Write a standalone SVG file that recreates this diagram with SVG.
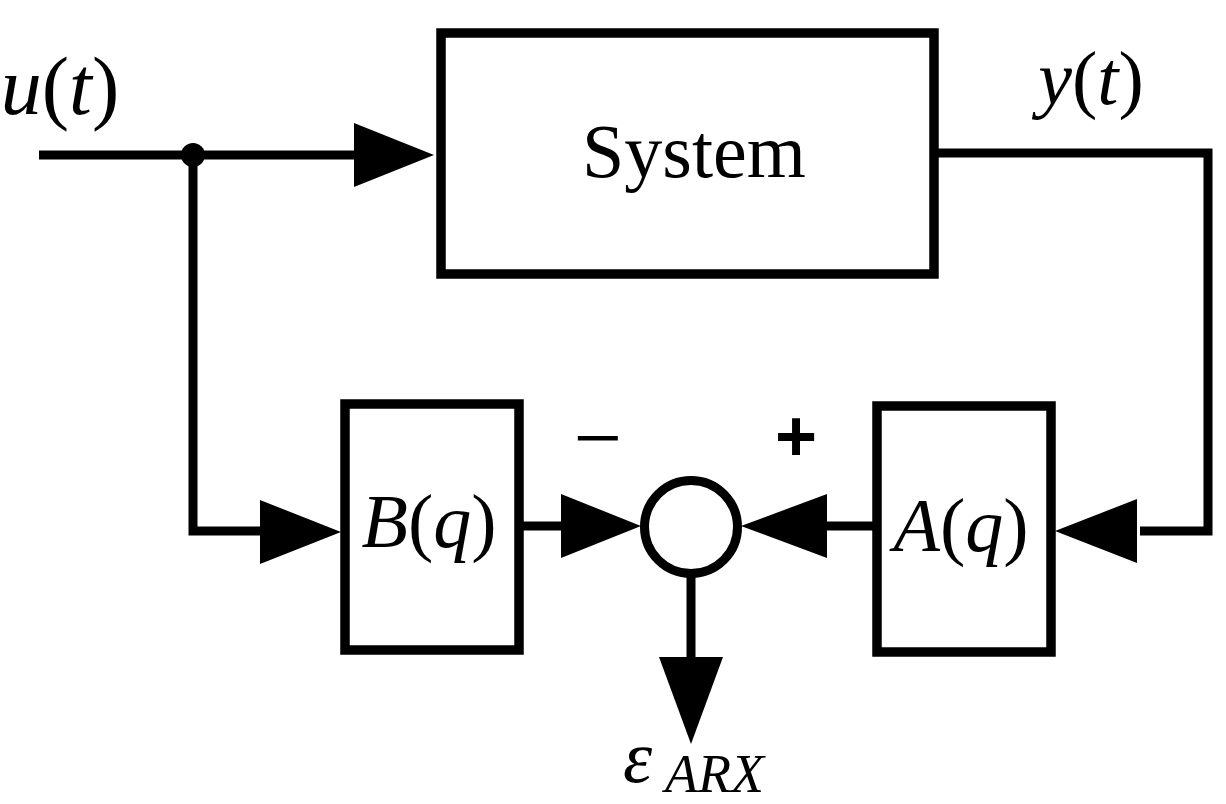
<svg xmlns="http://www.w3.org/2000/svg" width="1226" height="804" viewBox="0 0 1226 804">
<style>
.box{fill:#fff;stroke:#000;stroke-width:9.5}
.wire{fill:none;stroke:#000;stroke-width:9;stroke-linejoin:miter;stroke-linecap:butt}
.head{fill:#000;stroke:none}
.it{font-style:italic}
</style>
<rect width="1226" height="804" fill="#fff"/>
<g id="connectors">
<line class="wire" x1="39" y1="155" x2="360" y2="155"/>
<polygon class="head" points="354,123 434,155 354,187"/>
<circle cx="193" cy="155" r="12" fill="#000"/>
<polyline class="wire" points="193,155 193,531 266,531"/>
<polygon class="head" points="260,500 341,532 260,564"/>
<polyline class="wire" points="937,153 1208,153 1208,531 1140,531"/>
<polygon class="head" points="1137,499 1055,531 1137,563"/>
<line class="wire" x1="522" y1="526" x2="566" y2="526"/>
<polygon class="head" points="561,494 641,526 561,558"/>
<line class="wire" x1="874" y1="526" x2="822" y2="526"/>
<polygon class="head" points="827,494 741,526 827,558"/>
<line class="wire" x1="691" y1="570" x2="691" y2="662"/>
<polygon class="head" points="659,657 691,744 723,657"/>
</g>
<g id="system">
<rect class="box" x="441" y="33" width="493" height="241"/>
<text x="694" y="177" font-size="76" text-anchor="middle" font-family="'Liberation Serif', 'Times New Roman', serif" fill="#000">System</text>
</g>
<g id="Bq">
<rect class="box" x="345" y="404" width="174" height="246"/>
<text x="429" y="547" font-size="76" text-anchor="middle" font-family="'Liberation Serif', 'Times New Roman', serif" fill="#000"><tspan class="it">B</tspan>(<tspan class="it">q</tspan>)</text>
</g>
<g id="Aq">
<rect class="box" x="877" y="406" width="174" height="246"/>
<text x="961" y="551" font-size="76" text-anchor="middle" font-family="'Liberation Serif', 'Times New Roman', serif" fill="#000"><tspan class="it">A</tspan>(<tspan class="it">q</tspan>)</text>
</g>
<g id="sum">
<circle cx="691" cy="527" r="46.5" fill="#fff" stroke="#000" stroke-width="9"/>
<text x="598" y="467" font-size="86" text-anchor="middle" font-family="'Liberation Serif', 'Times New Roman', serif" fill="#000">−</text>
<text x="796" y="461" font-size="72" font-weight="bold" text-anchor="middle" font-family="'Liberation Sans', Arial, sans-serif" fill="#000">+</text>
</g>
<g id="labels">
<text x="60" y="114" font-size="82" text-anchor="middle" font-family="'Liberation Serif', 'Times New Roman', serif" fill="#000"><tspan class="it">u</tspan>(<tspan class="it">t</tspan>)</text>
<text x="1091" y="104" font-size="76" text-anchor="middle" font-family="'Liberation Serif', 'Times New Roman', serif" fill="#000"><tspan class="it">y</tspan>(<tspan class="it">t</tspan>)</text>
<text x="623" y="782" font-size="74" font-style="italic" font-family="'Liberation Serif', 'Times New Roman', serif" fill="#000">ε</text>
<text x="665" y="792" font-size="54" font-style="italic" font-family="'Liberation Serif', 'Times New Roman', serif" fill="#000">ARX</text>
</g>
</svg>
